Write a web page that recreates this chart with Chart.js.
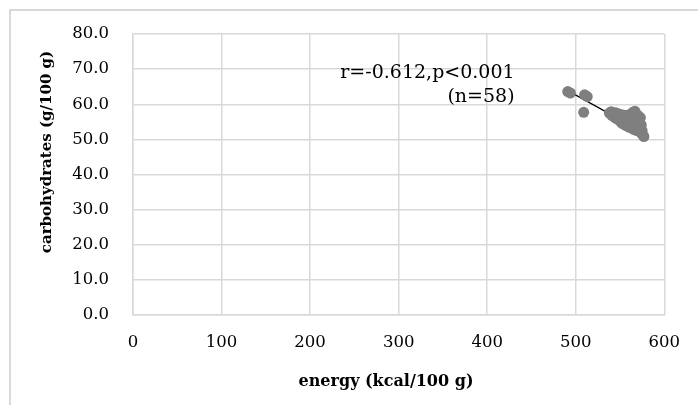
<!DOCTYPE html>
<html>
<head>
<meta charset="utf-8">
<script src="https://cdn.jsdelivr.net/npm/chart.js@4/dist/chart.umd.min.js"></script>
<style>
  html, body { margin: 0; padding: 0; background: #fff; overflow: hidden; width: 698px; height: 405px; }
  #frame { position: absolute; left: 9px; top: 9px; width: 700px; height: 420px;
           border-left: 2px solid #d9d9d9; border-top: 2px solid #d9d9d9; }
  #wrap { position: absolute; left: 0; top: 0; width: 698px; height: 405px; }
</style>
</head>
<body>
<div id="frame"></div>
<div id="wrap"><canvas id="c" width="698" height="405"></canvas></div>
<script>
// energy (kcal/100 g) vs carbohydrates (g/100 g)
const energy = [
  491, 494, 510, 513, 509,
  538, 540, 541, 543, 544, 545, 546, 547, 548, 549,
  550, 551, 552, 552, 553, 554, 555, 555, 556, 557,
  557, 558, 559, 560, 560, 561, 562, 562, 563, 563,
  565, 565, 565, 566, 566, 567, 567, 568, 568, 569,
  569, 570, 570, 571, 572, 572, 573, 574, 574, 575,
  576, 577, 573
];
const carbs = [
  63.6, 63.2, 62.7, 62.2, 57.7,
  57.5, 57.9, 56.8, 57.2, 56.3, 57.6, 55.9, 56.8, 57.3, 55.5,
  56.4, 55.0, 57.0, 54.6, 55.8, 56.5, 54.2, 55.3, 56.9, 53.9,
  55.6, 54.7, 56.2, 53.5, 55.0, 57.1, 54.2, 56.0, 53.2, 55.4,
  57.8, 53.9, 56.3, 52.8, 55.0, 58.0, 54.3, 56.7, 53.1, 55.6,
  52.5, 54.6, 56.9, 53.6, 52.2, 55.2, 53.0, 51.8, 54.1, 52.5,
  51.2, 50.8, 56.2
];
// trend line end points as seen in the picture
const trendX = [493, 577];
const trendY = [63.6, 51.9];

const annotation = ["r=-0.612,p<0.001", "(n=58)"];
const annoX = 431;
const annoY = [68.9, 62.1];

const xTitle = "energy (kcal/100 g)";
const yTitle = "carbohydrates (g/100 g)";

const xTicks = [0, 100, 200, 300, 400, 500, 600];
const yTicks = [0, 10, 20, 30, 40, 50, 60, 70, 80];

const FONT = "'DejaVu Serif', serif";
const GRID = "#d9d9d9";

const points = energy.map((x, i) => ({ x, y: carbs[i] }));
const trend = trendX.map((x, i) => ({ x, y: trendY[i] }));

// annotation text and axis titles, placed like the original
const textPlugin = {
  id: "texts",
  afterDraw(chart){
    const { ctx, scales } = chart;
    ctx.save();
    ctx.fillStyle = "#000";
    ctx.textBaseline = "middle";

    ctx.font = "19px " + FONT;
    ctx.textAlign = "right";
    annotation.forEach((t, i) => {
      ctx.fillText(t, scales.x.getPixelForValue(annoX), scales.y.getPixelForValue(annoY[i]));
    });

    ctx.font = "bold 16px " + FONT;
    ctx.textAlign = "center";
    ctx.fillText(xTitle, 386, 382);

    ctx.font = "bold 15px " + FONT;
    ctx.translate(47, 152);
    ctx.rotate(-Math.PI / 2);
    ctx.fillText(yTitle, 0, 0);
    ctx.restore();
  }
};

new Chart(document.getElementById("c"), {
  type: "scatter",
  data: {
    datasets: [
      { label: "data", data: points, backgroundColor: "#7f7f7f", borderWidth: 0,
        pointRadius: 5.5, pointHoverRadius: 5.5 },
      { type: "line", label: "trend", data: trend, borderColor: "#000", borderWidth: 1.3,
        pointRadius: 0, fill: false, tension: 0 }
    ]
  },
  options: {
    responsive: false,
    animation: false,
    layout: { padding: { left: 0, top: 34, right: 28, bottom: 0 } },
    plugins: { legend: { display: false }, tooltip: { enabled: false } },
    scales: {
      x: {
        type: "linear", min: 0, max: 600,
        afterBuildTicks(s){ s.ticks = xTicks.map(v => ({ value: v })); },
        afterFit(s){ s.height = 90; },
        grid: { color: GRID, lineWidth: 1.5, drawTicks: false },
        border: { color: GRID, width: 1.5 },
        ticks: { color: "#000", padding: 18, font: { family: FONT, size: 16.5 },
                 callback: v => String(v) }
      },
      y: {
        type: "linear", min: 0, max: 80,
        afterBuildTicks(s){ s.ticks = yTicks.map(v => ({ value: v })); },
        afterFit(s){ s.width = 133; },
        grid: { color: GRID, lineWidth: 1.5, drawTicks: false },
        border: { color: GRID, width: 1.5 },
        ticks: { color: "#000", padding: 24, font: { family: FONT, size: 16.5 },
                 callback: v => Number(v).toFixed(1) }
      }
    }
  },
  plugins: [textPlugin]
});
</script>
</body>
</html>
